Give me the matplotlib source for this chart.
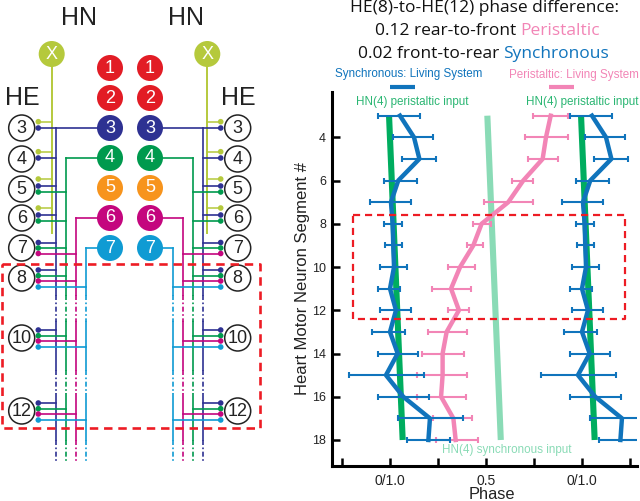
import matplotlib
matplotlib.use('Agg')
import matplotlib.pyplot as plt
import numpy as np
from matplotlib.patches import Circle

plt.rcParams['font.family'] = ['Liberation Sans', 'DejaVu Sans']

# right panel: phase
segments = [3, 4, 5, 6, 7, 8, 9, 10, 11, 12, 13, 14, 15, 16, 17, 18]
sync_mean = [0.052, 0.125, 0.153, 0.043, 0.005, 0.014, 0.017, 0.021, 0.0, 0.031, 0.0, 0.04, -0.021, 0.069, 0.208, 0.2]
sync_low = [-0.064, 0.017, 0.061, -0.03, -0.104, -0.03, -0.026, -0.052, -0.064, -0.05, -0.094, -0.064, -0.212, -0.061, 0.04, 0.09]
sync_high = [0.156, 0.226, 0.24, 0.139, 0.109, 0.064, 0.064, 0.09, 0.054, 0.109, 0.08, 0.144, 0.179, 0.205, 0.382, 0.3125]
peri_mean = [0.837, 0.8125, 0.795, 0.694, 0.616, 0.477, 0.434, 0.365, 0.318, 0.359, 0.295, 0.274, 0.274, 0.266, 0.33, 0.342]
peri_low = [0.746, 0.703, 0.717, 0.634, 0.49, 0.434, 0.399, 0.30, 0.217, 0.30, 0.2, 0.168, 0.139, 0.139, 0.226, 0.238]
peri_high = [0.927, 0.925, 0.877, 0.747, 0.747, 0.526, 0.486, 0.443, 0.422, 0.411, 0.403, 0.385, 0.403, 0.394, 0.425, 0.46]
input_segments = [3, 18]
hn4_peri = [-0.005, 0.066]
hn4_sync = [0.507, 0.577]
x_ticks = [-0.25, 0, 0.25, 0.5, 0.75, 1.0, 1.25]
x_labels = ['', '0/1.0', '', '0.5', '', '0/1.0', '']
y_ticks = [4, 6, 8, 10, 12, 14, 16, 18]

# left panel: which HN cell reaches which HE cell
hn_cells = ['1', '2', '3', '4', '5', '6', '7']
hn_colors = ['#e21c25', '#e21c25', '#2e3192', '#009a4e', '#f7941d', '#c4067e', '#0f9bd3']
he_cells = ['3', '4', '5', '6', '7', '8', '10', '12']
he_inputs = [['3'], ['3'], ['3', '4'], ['3', '4'], ['3', '4', '6'],
             ['3', '4', '6', '7'], ['3', '4', '6', '7'], ['3', '4', '6', '7']]

BLUE = '#1074bc'
PINK = '#f285b6'
GREEN = '#00ad5f'
LIGHT_GREEN = '#8adbb6'
RED = '#ed1c24'
XCOL = '#b5c93c'

W, H = 640, 501
fig = plt.figure(figsize=(6.4, 5.01), dpi=100)

# data axes, placed by pixel box
left, right, top, bottom = 331.7, 637, 92, 465.7
ax = fig.add_axes([left / W, 1 - bottom / H, (right - left) / W, (bottom - top) / H])
ax.set_xlim((left - 390) / 192, (right - 390) / 192)
ax.set_ylim((bottom - 137.3) / 21.62 + 4, (top - 137.3) / 21.62 + 4)
for s in ['top', 'right']:
    ax.spines[s].set_visible(False)
for s in ['left', 'bottom']:
    ax.spines[s].set_linewidth(2.2)
ax.set_xticks(x_ticks)
ax.set_xticklabels(x_labels, color='#222222')
ax.set_yticks(y_ticks)
ax.tick_params(axis='both', direction='in', length=5.5, width=1.8, labelcolor='#222222')
ax.tick_params(axis='x', pad=6, labelsize=10)
ax.tick_params(axis='y', pad=4, labelsize=9)
ax.set_xlabel('Phase', fontsize=11.8, color='#222222', labelpad=-1, x=(492 - left) / (right - left))
ax.set_ylabel('Heart Motor Neuron Segment #', fontsize=12, color='#222222', labelpad=1.5)

seg = np.array(segments)
sm, sl, sh = np.array(sync_mean), np.array(sync_low), np.array(sync_high)
pm, pl, ph = np.array(peri_mean), np.array(peri_low), np.array(peri_high)

for off in [0, 1]:
    ax.plot(np.array(hn4_peri) + off, input_segments, color=GREEN, lw=4.4, solid_capstyle='butt', zorder=2)
ax.plot(hn4_sync, input_segments, color=LIGHT_GREEN, lw=4.4, solid_capstyle='butt', zorder=2)

ax.errorbar(pm, seg, xerr=[pm - pl, ph - pm], color=PINK, lw=3.2, elinewidth=1.5,
            capsize=2.4, capthick=1.5, zorder=3)
for off in [0, 1]:
    ax.errorbar(sm + off, seg, xerr=[sm - sl, sh - sm], color=BLUE, lw=3.2, elinewidth=1.5,
                capsize=2.4, capthick=1.5, zorder=4)

# overlay in pixel coordinates for the schematic and annotations
ov = fig.add_axes([0, 0, 1, 1], zorder=5)
ov.set_xlim(0, W)
ov.set_ylim(H, 0)
ov.axis('off')
ov.patch.set_alpha(0)


def circle(x, y, r, fc, ec='none', lw=0):
    ov.add_patch(Circle((x, y), r, fc=fc, ec=ec, lw=lw, zorder=6))


def box(x0, y0, x1, y1, lw):
    ov.plot([x0, x1, x1, x0, x0], [y0, y0, y1, y1, y0], color=RED, lw=lw,
            ls=(0, (3.2, 2.2)), zorder=8)


hn_y = dict(zip(hn_cells, [68, 98, 128, 158, 188, 218, 248]))
he_y = dict(zip(he_cells, [128, 159, 189, 218, 248, 278, 338, 411]))
rails = {'3': (56, 203), '4': (66, 193), '6': (76, 183), '7': (86, 173)}
rail_col = {'3': '#2e3192', '4': '#009a4e', '6': '#c4067e', '7': '#0f9bd3'}
yellow_y = [121.7, 151.7, 179, 208]
broken = (0, (3, 1.5, 1, 1.5))

for side, (hn_x, he_x, dot_x, x_x) in enumerate([(110, 21.7, 38.3, 51.7), (150, 237.7, 220.7, 207.3)]):
    # rails, solid then broken
    for c, xs in rails.items():
        x = xs[side]
        col = rail_col[c]
        ov.plot([hn_x, x], [hn_y[c], hn_y[c]], color=col, lw=1.2, zorder=3)
        for y0, y1, ls in [(hn_y[c], 295, '-'), (295, 321.7, broken), (321.7, 370, '-'),
                           (370, 394, broken), (394, 440, '-'), (440, 463, broken)]:
            ov.plot([x, x], [y0, y1], color=col, lw=1.2, ls=ls, zorder=3)
    # X cell and its branches
    ov.plot([x_x, x_x], [54, 233], color=XCOL, lw=1.4, zorder=3)
    for y in yellow_y:
        ov.plot([dot_x, x_x], [y, y], color=XCOL, lw=1.1, zorder=3)
        circle(dot_x, y, 2.8, XCOL)
    circle(x_x, 54, 13, XCOL)
    ov.text(x_x, 54.5, 'X', color='white', fontsize=13, ha='center', va='center', zorder=7)
    # HN cells
    for c, col in zip(hn_cells, hn_colors):
        circle(hn_x, hn_y[c], 13, col)
        ov.text(hn_x, hn_y[c], c, color='white', fontsize=13, ha='center', va='center', zorder=7)
    # HE cells and their inputs
    for he, inputs in zip(he_cells, he_inputs):
        y = he_y[he]
        n = len(inputs)
        spread = {1: [0], 2: [-3, 3], 3: [-5.5, 0, 5.5], 4: [-8, -2.3, 3, 9]}[n]
        for c, dy in zip(inputs, spread):
            dy = -1 if n == 1 and he == '4' else dy
            ov.plot([dot_x, rails[c][side]], [y + dy, y + dy], color=rail_col[c], lw=1.2, zorder=4)
            circle(dot_x, y + dy, 2.8, rail_col[c])
        circle(he_x, y, 13, 'white', ec='#222222', lw=1.1)
        ov.text(he_x, y + 0.5, he, color='#222222', fontsize=13, ha='center', va='center', zorder=7)

ov.text(79, 18, 'HN', fontsize=18, color='#222222', ha='center', va='center')
ov.text(186, 18, 'HN', fontsize=18, color='#222222', ha='center', va='center')
ov.text(22, 98, 'HE', fontsize=18, color='#222222', ha='center', va='center')
ov.text(238, 98, 'HE', fontsize=18, color='#222222', ha='center', va='center')

box(1.5, 264, 260, 427.7, 1.9)
box(352.7, 215, 625, 319.3, 1.6)

# headline
TF = ['Open Sans', 'DejaVu Sans']
ov.text(485, 8, 'HE(8)-to-HE(12) phase difference:', fontsize=12.5, family=TF, color='#111111', ha='center', va='center')
ov.text(516, 31, '0.12 rear-to-front', fontsize=12.5, family=TF, color='#111111', ha='right', va='center')
ov.text(520, 31, 'Peristaltic', fontsize=12.5, family=TF, color=PINK, ha='left', va='center')
ov.text(499, 54, '0.02 front-to-rear', fontsize=12.5, family=TF, color='#111111', ha='right', va='center')
ov.text(503, 54, 'Synchronous', fontsize=12.5, family=TF, color=BLUE, ha='left', va='center')

# small labels
ov.text(409, 74, 'Synchronous: Living System', fontsize=8.4, color=BLUE, ha='center', va='center')
ov.text(574, 75, 'Peristaltic: Living System', fontsize=8.4, color=PINK, ha='center', va='center')
ov.plot([390, 415], [87.3, 87.3], color=BLUE, lw=3, solid_capstyle='butt')
ov.plot([549, 574], [87.3, 87.3], color=PINK, lw=3, solid_capstyle='butt')
ov.text(412, 102, 'HN(4) peristaltic input', fontsize=8.4, color='#2bb673', ha='center', va='center')
ov.text(582, 102, 'HN(4) peristaltic input', fontsize=8.4, color='#2bb673', ha='center', va='center')
ov.text(507, 450, 'HN(4) synchronous input', fontsize=8.4, color=LIGHT_GREEN, ha='center', va='center')

fig.savefig('out.png', dpi=100)
